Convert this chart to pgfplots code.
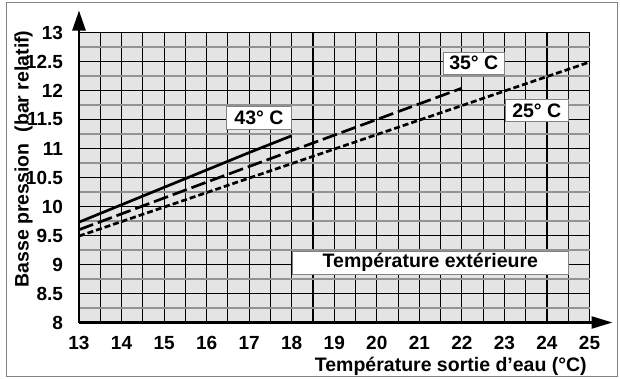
\documentclass[border=0pt]{standalone}
\usepackage{pgfplots}
\pgfplotsset{compat=1.18}
\usepackage{fontspec}
\setmainfont{Liberation Sans}
\usetikzlibrary{arrows.meta}
\definecolor{bgc}{RGB}{228,228,228}
\definecolor{framec}{RGB}{130,130,130}
\begin{document}
\begin{tikzpicture}
\begin{axis}[
  at={(79pt,55.5pt)}, anchor=south west,
  scale only axis, width=510.5pt, height=290pt,
  xmin=13, xmax=25, ymin=8, ymax=13,
  xtick={13,...,25}, ytick={8,8.5,...,13},
  minor x tick num=1, minor y tick num=1,
  grid=both,
  major grid style={black, line width=1.1pt},
  minor x grid style={black, line width=1.1pt},
  minor y grid style={gray!85, line width=1.1pt},
  axis background/.style={fill=bgc},
  axis lines=left,
  major tick length=0pt, minor tick length=0pt,
  x axis line style={line width=2.5pt, -{Triangle[length=21pt,width=12pt]}, shorten >=-23pt},
  y axis line style={line width=2.5pt, -{Triangle[length=20pt,width=13pt]}, shorten >=-22pt},
  /pgf/number format/assume math mode=true,
  tick label style={font=\bfseries\fontsize{19}{22}\selectfont},
  xticklabel style={anchor=north, yshift=-10.5pt},
  yticklabel style={anchor=east, xshift=-12.5pt},
  clip=false,
]
\addplot[black, line width=2.7pt] coordinates {(13,9.73) (14,10.03) (15,10.33) (16,10.63) (17,10.93) (18,11.22)};
\addplot[black, line width=2.7pt, dash pattern=on 15pt off 5pt] coordinates {(13,9.60) (16,10.42) (19,11.23) (22,12.04)};
\addplot[black, line width=2.7pt, dash pattern=on 6pt off 3pt] coordinates {(13,9.49) (17,10.49) (21,11.49) (25,12.49)};
\tikzset{lbl/.style={draw=framec, line width=0.8pt, fill=white, inner sep=0pt, minimum height=23pt, font=\bfseries\fontsize{19.5}{22}\selectfont}}
\node[lbl, minimum width=65pt] at (axis cs:17.23,11.53) {43° C};
\node[lbl, minimum width=61pt, minimum height=22pt] at (axis cs:22.28,12.47) {35° C};
\node[lbl, minimum width=63pt, minimum height=22pt] at (axis cs:23.76,11.65) {25° C};
\node[lbl, minimum width=276pt] at (axis cs:21.26,9.03) {Température extérieure};
\node[rotate=90, font=\bfseries\fontsize{19.5}{22}\selectfont, inner sep=0pt] at (axis cs:11.70,10.82) {Basse pression\ \ (bar relatif)};
\node[anchor=base east, font=\bfseries\fontsize{19.5}{22}\selectfont, inner sep=0pt] at (axis cs:24.94,7.148) {Température sortie d’eau (°C)};
\end{axis}
\pgfresetboundingbox
\draw[framec, line width=1pt] (6pt,2pt) rectangle (617pt,375pt);
\path[use as bounding box] (0,0) rectangle (620pt,378pt);
\end{tikzpicture}
\end{document}
